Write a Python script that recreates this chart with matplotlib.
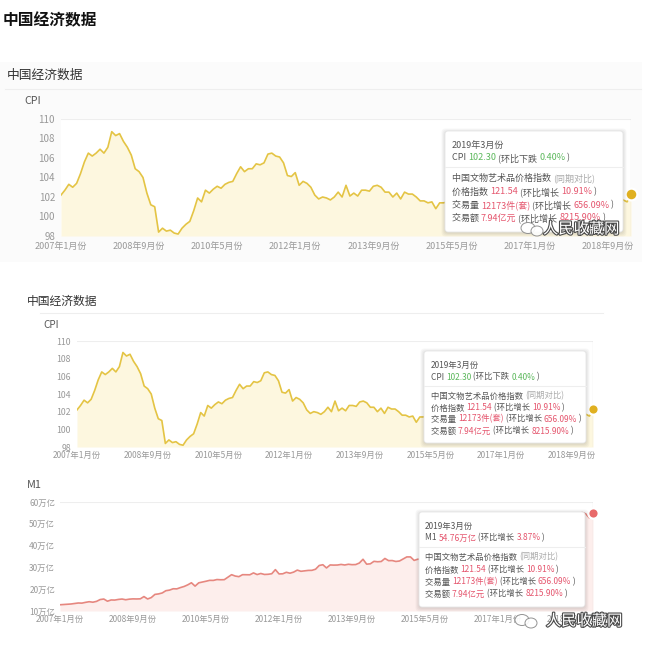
import numpy as np
import matplotlib
matplotlib.use('Agg')
import matplotlib.pyplot as plt
from matplotlib.patches import FancyBboxPatch, Rectangle, Ellipse
from matplotlib.transforms import Affine2D
import matplotlib.patheffects as pe

plt.rcParams['font.family'] = ['Noto Sans CJK SC', 'DejaVu Sans']

W, H = 666, 647

# ---------------- data ----------------
cpi = [
    102.2, 102.7, 103.3, 103.0, 103.4, 104.4, 105.6, 106.5, 106.2, 106.5, 106.9, 106.5,
    107.1, 108.7, 108.3, 108.5, 107.7, 107.1, 106.3, 104.9, 104.6, 104.0, 102.4, 101.2,
    101.0, 98.4, 98.8, 98.5, 98.6, 98.3, 98.2, 98.8, 99.2, 99.5, 100.6, 101.9,
    101.5, 102.7, 102.4, 102.8, 103.1, 102.9, 103.3, 103.5, 103.6, 104.4, 105.1, 104.6,
    104.9, 104.9, 105.4, 105.3, 105.5, 106.4, 106.5, 106.2, 106.1, 105.5, 104.2, 104.1,
    104.5, 103.2, 103.6, 103.4, 103.0, 102.2, 101.8, 102.0, 101.9, 101.7, 102.0, 102.5,
    102.0, 103.2, 102.1, 102.4, 102.1, 102.7, 102.7, 102.6, 103.1, 103.2, 103.0, 102.5,
    102.5, 102.0, 102.4, 101.8, 102.5, 102.3, 102.3, 102.0, 101.6, 101.6, 101.4, 101.5,
    100.8, 101.4, 101.4, 101.5, 101.2, 101.4, 101.6, 102.0, 101.6, 101.3, 101.5, 101.6,
    101.8, 102.3, 102.3, 102.3, 102.0, 101.9, 101.8, 101.3, 101.9, 102.1, 102.3, 102.1,
    102.5, 100.8, 100.9, 101.2, 101.5, 101.5, 101.4, 101.8, 101.6, 101.9, 101.7, 101.8,
    101.5, 102.9, 102.1, 101.8, 101.8, 101.9, 102.1, 102.3, 102.5, 102.5, 102.2, 101.9,
    101.7, 101.5, 102.3]

m1 = [
    12.86, 12.96, 13.11, 13.21, 13.42, 13.67, 13.61, 13.97, 14.26, 14.03, 14.41, 15.25,
    15.49, 14.49, 15.06, 15.01, 15.31, 15.49, 15.16, 15.44, 15.56, 15.52, 15.58, 16.62,
    15.51, 16.16, 17.61, 17.84, 18.27, 19.31, 19.58, 20.20, 20.15, 20.75, 21.25, 22.00,
    22.95, 21.41, 22.92, 23.27, 23.65, 24.06, 24.03, 24.43, 24.33, 24.37, 25.54, 26.66,
    26.03, 25.75, 26.66, 26.62, 26.61, 27.47, 26.72, 27.21, 26.76, 26.84, 27.09, 28.98,
    27.00, 27.06, 27.76, 27.34, 27.84, 28.76, 28.21, 28.43, 28.62, 28.65, 29.16, 30.87,
    31.23, 29.75, 31.12, 31.05, 31.09, 31.36, 31.10, 31.44, 31.25, 31.30, 32.01, 33.73,
    31.48, 31.64, 32.78, 32.59, 32.71, 34.10, 33.10, 33.14, 32.72, 32.94, 33.90, 34.81,
    34.81, 33.21, 33.75, 33.74, 35.14, 35.61, 35.92, 36.49, 36.44, 37.03, 37.98, 40.10,
    41.10, 40.52, 41.15, 41.15, 42.61, 44.36, 44.39, 45.07, 45.48, 45.47, 47.20, 48.66,
    47.48, 47.65, 48.88, 48.88, 49.63, 51.02, 50.96, 51.79, 52.36, 51.74, 52.72, 54.38,
    54.35, 51.20, 52.35, 52.15, 52.57, 54.36, 53.79, 53.62, 53.80, 53.44, 54.32, 55.17,
    54.56, 52.72, 54.76]

tick_pos = [0, 20, 40, 60, 80, 100, 120, 140]
tick_labels = ['2007年1月份', '2008年9月份', '2010年5月份', '2012年1月份',
               '2013年9月份', '2015年5月份', '2017年1月份', '2018年9月份']
cpi_yticks = [98, 100, 102, 104, 106, 108, 110]
m1_yticks = [10, 20, 30, 40, 50, 60]
m1_ylabels = ['10万亿', '20万亿', '30万亿', '40万亿', '50万亿', '60万亿']

GRAY = '#555555'
LGRAY = '#aaaaaa'
RED = '#e5566e'
GREEN = '#5cb85c'

cpi_lines = [
    [('2019年3月份', GRAY)],
    [('CPI ', GRAY), ('102.30', GREEN), (' (环比下跌 ', GRAY), ('0.40%', GREEN), (' )', GRAY)],
    None,
    [('中国文物艺术品价格指数 ', GRAY), ('(同期对比)', LGRAY)],
    [('价格指数 ', GRAY), ('121.54', RED), (' (环比增长 ', GRAY), ('10.91%', RED), (' )', GRAY)],
    [('交易量 ', GRAY), ('12173件(套)', RED), (' (环比增长 ', GRAY), ('656.09%', RED), (' )', GRAY)],
    [('交易额 ', GRAY), ('7.94亿元', RED), (' (环比增长 ', GRAY), ('8215.90%', RED), (' )', GRAY)],
]
m1_lines = [
    [('2019年3月份', GRAY)],
    [('M1 ', GRAY), ('54.76万亿', RED), (' (环比增长 ', GRAY), ('3.87%', RED), (' )', GRAY)],
    None,
] + cpi_lines[3:]

# ---------------- figure ----------------
fig = plt.figure(figsize=(W / 100, H / 100), dpi=100)
fig.patch.set_facecolor('white')
tpx = Affine2D().scale(1 / W, -1 / H).translate(0, 1) + fig.transFigure


def add_ax(l, t, r, b):
    return fig.add_axes([l / W, 1 - b / H, (r - l) / W, (b - t) / H])


def ftext(x, y, s, **kw):
    return fig.text(x, y, s, transform=tpx, **kw)


# faint background of first block
fig.patches.append(Rectangle((0, 62), 642, 200, transform=tpx, fc='#fbfbfb', ec='none', zorder=-5))

ftext(3, 20, '中国经济数据', fontsize=11.3, fontweight='bold', color='#111111', va='center')

ftext(7, 75, '中国经济数据', fontsize=9.2, color='#333333', va='center')
fig.add_artist(plt.Line2D([5, 641], [89, 89], transform=tpx, color='#eeeeee', lw=0.8))
ftext(24, 101, 'CPI', fontsize=7.6, color=GRAY, va='center')

ftext(27, 301, '中国经济数据', fontsize=8.5, color='#333333', va='center')
fig.add_artist(plt.Line2D([40, 603], [313, 313], transform=tpx, color='#eeeeee', lw=0.8))
ftext(43, 325, 'CPI', fontsize=7.2, color=GRAY, va='center')

ftext(27, 485, 'M1', fontsize=7.8, color=GRAY, va='center')


def draw_panel(ax, y, ymin, ymax, yticks, ylabels, lc, fc, dc, fsy, fsx, pady, padx, ms):
    x = np.arange(len(y))
    ax.set_facecolor('white')
    ax.fill_between(x, y, ymin, color=fc, lw=0)
    ax.plot(x, y, color=lc, lw=1.2, solid_joinstyle='round')
    ax.set_xlim(0, len(y) - 1)
    ax.set_ylim(ymin, ymax)
    ax.axhline(ymax, color='#eeeeee', lw=0.8)
    ax.axvline(x[-1], color='#bbbbbb', lw=0.8)
    ax.plot([x[-1]], [y[-1]], 'o', ms=ms, mfc=dc, mec='white', mew=1.6,
            clip_on=False, zorder=6)
    for s in ax.spines.values():
        s.set_visible(False)
    ax.set_xticks(tick_pos)
    ax.set_xticklabels(tick_labels)
    ax.set_yticks(yticks)
    ax.set_yticklabels(ylabels)
    ax.tick_params(axis='both', length=0, colors='#999999')
    ax.tick_params(axis='x', labelsize=fsx, pad=padx)
    ax.tick_params(axis='y', labelsize=fsy, pad=pady)


ax1 = add_ax(61, 119, 631, 236)
draw_panel(ax1, cpi, 98, 110, cpi_yticks, [str(v) for v in cpi_yticks],
           '#e4c444', '#fdf7df', '#e0b020', 7.0, 6.5, 4.3, 4.2, 8.5)
ax2 = add_ax(77, 341, 593, 447)
draw_panel(ax2, cpi, 98, 110, cpi_yticks, [str(v) for v in cpi_yticks],
           '#e4c444', '#fdf7df', '#e0b020', 6.3, 6.0, 4.3, 3.0, 7.5)
ax3 = add_ax(60, 502, 593, 611)
draw_panel(ax3, m1, 10, 60, m1_yticks, m1_ylabels,
           '#e6877f', '#fdeeec', '#e86a6a', 6.0, 6.0, 3.5, 3.0, 7.5)

renderer = fig.canvas.get_renderer()


def tooltip(x0, y0, x1, y1, tx, ys, divy, lines, fs):
    w, h = x1 - x0, y1 - y0
    for i in range(1, 5):
        fig.patches.append(FancyBboxPatch((x0 - i + 0.5, y0 - i + 1.5), w + 2 * i - 1, h + 2 * i - 1,
                                          boxstyle='round,pad=0,rounding_size=4', transform=tpx,
                                          fc='#000000', ec='none', alpha=0.03, zorder=8))
    fig.patches.append(FancyBboxPatch((x0, y0), w, h, boxstyle='round,pad=0,rounding_size=3',
                                      transform=tpx, fc='white', ec='#e6e6e6', lw=0.6, zorder=9))
    fig.add_artist(plt.Line2D([x0, x1], [divy, divy], transform=tpx, color='#eeeeee', lw=0.8, zorder=10))
    yi = 0
    for line in lines:
        if line is None:
            continue
        cx = tx
        for s, c in line:
            t = ftext(cx, ys[yi], s, fontsize=fs, color=c, va='center', zorder=11)
            cx += t.get_window_extent(renderer=renderer).width
        yi += 1


tooltip(445, 131, 623, 232, 452, [145, 158, 178, 192, 205, 218], 167, cpi_lines, 6.5)
tooltip(424, 351, 586, 443, 431, [365, 377, 396, 408, 419, 431], 386, cpi_lines, 6.0)
tooltip(419, 512, 585, 607, 425, [526, 538, 557, 570, 582, 594], 547, m1_lines, 6.0)


def watermark(x, y, ix):
    for dx, dy, rw, rh in [(0, 0, 14, 11), (9, 3, 12, 10)]:
        fig.patches.append(Ellipse((ix + dx, y + dy - 1), rw, rh, transform=tpx, fc='white',
                                   ec='#888888', lw=0.7, alpha=0.9, zorder=12))
    ftext(x, y, '人民收藏网', fontsize=11, color='white', va='center', zorder=13,
          path_effects=[pe.withStroke(linewidth=1.6, foreground='#4a4a4a')])


watermark(543, 229, 528)
watermark(546, 621, 522)

fig.savefig('out.png', dpi=100, facecolor='white')
